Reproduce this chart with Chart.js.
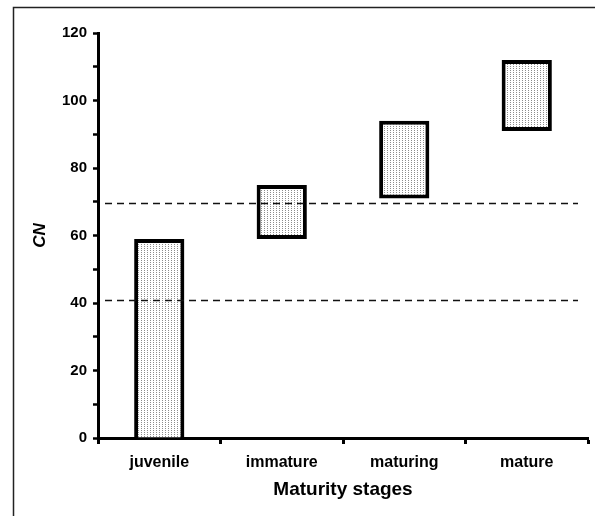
<!DOCTYPE html>
<html>
<head>
<meta charset="utf-8">
<script src="https://cdn.jsdelivr.net/npm/chart.js@4"></script>
<style>
html,body{margin:0;padding:0;background:#fff;}
#wrap{width:595px;height:516px;position:relative;}
</style>
</head>
<body>
<div id="wrap"><canvas id="c" width="595" height="516"></canvas></div>
<script>
const categories = ['juvenile', 'immature', 'maturing', 'mature'];
const rangeLow = [0, 59, 71, 91];
const rangeHigh = [59, 75, 94, 112];
const refLines = [41, 69.5];
const yTicks = [0, 20, 40, 60, 80, 100, 120];
const xTitle = 'Maturity stages';
const yTitle = 'CN';

function makePattern() {
  const p = document.createElement('canvas');
  p.width = 3; p.height = 2;
  const g = p.getContext('2d');
  g.fillStyle = '#ffffff';
  g.fillRect(0, 0, 3, 2);
  g.fillStyle = '#8c8c8c';
  g.fillRect(0, 0, 1, 1);
  return document.getElementById('c').getContext('2d').createPattern(p, 'repeat');
}

const framePlugin = {
  id: 'frame',
  beforeDraw(chart) {
    const ctx = chart.ctx;
    ctx.save();
    ctx.fillStyle = '#fff';
    ctx.fillRect(0, 0, chart.width, chart.height);
    ctx.strokeStyle = '#222';
    ctx.lineWidth = 1.5;
    ctx.strokeRect(13.5, 7.5, 700, 700);
    ctx.restore();
  }
};

const refLinePlugin = {
  id: 'refLines',
  afterDatasetsDraw(chart) {
    const ctx = chart.ctx;
    const y = chart.scales.y;
    const a = chart.chartArea;
    ctx.save();
    ctx.strokeStyle = '#111';
    ctx.lineWidth = 1.3;
    ctx.setLineDash([7, 5]);
    refLines.forEach(v => {
      const py = Math.round(y.getPixelForValue(v)) + 0.5;
      ctx.beginPath();
      ctx.moveTo(a.left + 7, py);
      ctx.lineTo(a.right - 10, py);
      ctx.stroke();
    });
    ctx.restore();
  }
};

const font = 'Liberation Sans, Arial, sans-serif';

new Chart(document.getElementById('c'), {
  type: 'bar',
  data: {
    labels: categories,
    datasets: [{
      data: categories.map((c, i) => [rangeLow[i], rangeHigh[i]]),
      backgroundColor: makePattern(),
      borderColor: '#000',
      borderWidth: 4,
      borderSkipped: (ctx) => rangeLow[ctx.dataIndex] === 0 ? 'start' : false,
      barPercentage: 0.41,
      categoryPercentage: 1.0
    }]
  },
  options: {
    responsive: false,
    animation: false,
    devicePixelRatio: 1,
    layout: { padding: { left: 20, top: 33, right: 7, bottom: 0 } },
    plugins: { legend: { display: false }, tooltip: { enabled: false } },
    scales: {
      x: {
        offset: true,
        grid: { display: true, drawOnChartArea: false, offset: true, tickLength: 6, tickWidth: 3, color: '#000' },
        border: { display: true, width: 3, color: '#000' },
        ticks: { color: '#000', padding: 9, font: { family: font, size: 16, weight: 'bold' } },
        title: { display: true, text: xTitle, color: '#000', padding: { top: 0, bottom: 15 }, font: { family: font, size: 19, weight: 'bold' } },
        afterFit(s) { s.height = 78; }
      },
      y: {
        min: 0, max: 120,
        afterBuildTicks(s) {
          const t = [];
          for (let v = 0; v <= 120; v += 10) t.push({ value: v });
          s.ticks = t;
        },
        grid: { display: true, drawOnChartArea: false, tickLength: 5, tickWidth: 2.5, color: '#000' },
        border: { display: true, width: 3, color: '#000' },
        ticks: {
          color: '#000', padding: 6,
          font: { family: font, size: 15, weight: 'bold' },
          callback: (v) => yTicks.includes(v) ? String(v) : ''
        },
        title: { display: true, text: yTitle, color: '#000', padding: { top: 10, bottom: 0 }, font: { family: font, size: 17, weight: 'bold', style: 'italic' } },
        afterFit(s) { s.width = 78; }
      }
    }
  },
  plugins: [framePlugin, refLinePlugin]
});
</script>
</body>
</html>
